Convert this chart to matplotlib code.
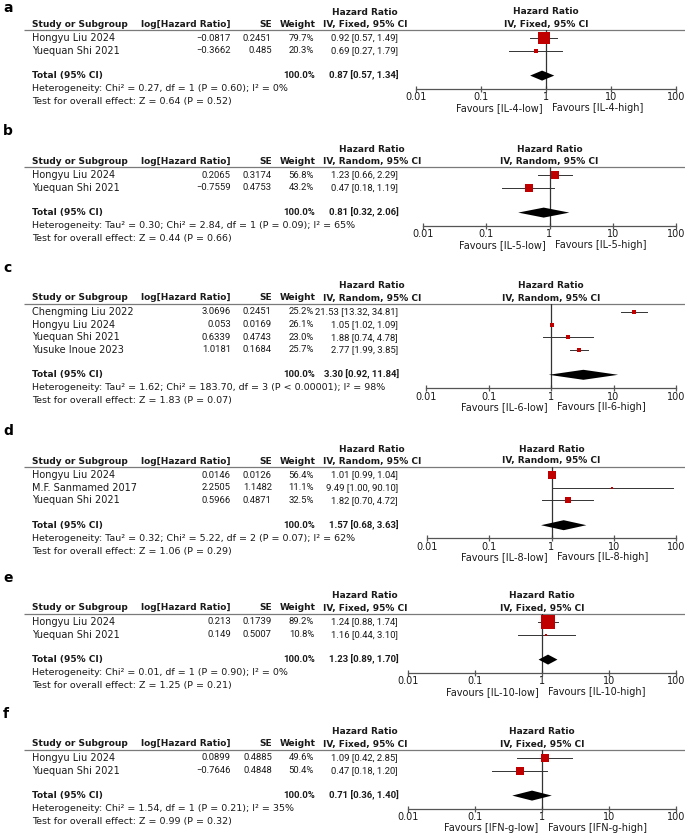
import matplotlib.pyplot as plt

plt.rcParams['font.family'] = ['DejaVu Sans']

# ---- data, one block per panel ----
a_studies = ["Hongyu Liu 2024", "Yuequan Shi 2021"]
a_loghr = [-0.0817, -0.3662]
a_se = [0.2451, 0.485]
a_weight = [79.7, 20.3]
a_hr = [0.92, 0.69]
a_lo = [0.57, 0.27]
a_hi = [1.49, 1.79]
a_total = [0.87, 0.57, 1.34]
a_het = "Heterogeneity: Chi² = 0.27, df = 1 (P = 0.60); I² = 0%"
a_test = "Test for overall effect: Z = 0.64 (P = 0.52)"
a_favours = ["Favours [IL-4-low]", "Favours [IL-4-high]"]

b_studies = ["Hongyu Liu 2024", "Yuequan Shi 2021"]
b_loghr = [0.2065, -0.7559]
b_se = [0.3174, 0.4753]
b_weight = [56.8, 43.2]
b_hr = [1.23, 0.47]
b_lo = [0.66, 0.18]
b_hi = [2.29, 1.19]
b_total = [0.81, 0.32, 2.06]
b_het = "Heterogeneity: Tau² = 0.30; Chi² = 2.84, df = 1 (P = 0.09); I² = 65%"
b_test = "Test for overall effect: Z = 0.44 (P = 0.66)"
b_favours = ["Favours [IL-5-low]", "Favours [IL-5-high]"]

c_studies = ["Chengming Liu 2022", "Hongyu Liu 2024", "Yuequan Shi 2021", "Yusuke Inoue 2023"]
c_loghr = [3.0696, 0.053, 0.6339, 1.0181]
c_se = [0.2451, 0.0169, 0.4743, 0.1684]
c_weight = [25.2, 26.1, 23.0, 25.7]
c_hr = [21.53, 1.05, 1.88, 2.77]
c_lo = [13.32, 1.02, 0.74, 1.99]
c_hi = [34.81, 1.09, 4.78, 3.85]
c_total = [3.30, 0.92, 11.84]
c_het = "Heterogeneity: Tau² = 1.62; Chi² = 183.70, df = 3 (P < 0.00001); I² = 98%"
c_test = "Test for overall effect: Z = 1.83 (P = 0.07)"
c_favours = ["Favours [IL-6-low]", "Favours [Il-6-high]"]

d_studies = ["Hongyu Liu 2024", "M.F. Sanmamed 2017", "Yuequan Shi 2021"]
d_loghr = [0.0146, 2.2505, 0.5966]
d_se = [0.0126, 1.1482, 0.4871]
d_weight = [56.4, 11.1, 32.5]
d_hr = [1.01, 9.49, 1.82]
d_lo = [0.99, 1.00, 0.70]
d_hi = [1.04, 90.10, 4.72]
d_total = [1.57, 0.68, 3.63]
d_het = "Heterogeneity: Tau² = 0.32; Chi² = 5.22, df = 2 (P = 0.07); I² = 62%"
d_test = "Test for overall effect: Z = 1.06 (P = 0.29)"
d_favours = ["Favours [IL-8-low]", "Favours [IL-8-high]"]

e_studies = ["Hongyu Liu 2024", "Yuequan Shi 2021"]
e_loghr = [0.213, 0.149]
e_se = [0.1739, 0.5007]
e_weight = [89.2, 10.8]
e_hr = [1.24, 1.16]
e_lo = [0.88, 0.44]
e_hi = [1.74, 3.10]
e_total = [1.23, 0.89, 1.70]
e_het = "Heterogeneity: Chi² = 0.01, df = 1 (P = 0.90); I² = 0%"
e_test = "Test for overall effect: Z = 1.25 (P = 0.21)"
e_favours = ["Favours [IL-10-low]", "Favours [IL-10-high]"]

f_studies = ["Hongyu Liu 2024", "Yuequan Shi 2021"]
f_loghr = [0.0899, -0.7646]
f_se = [0.4885, 0.4848]
f_weight = [49.6, 50.4]
f_hr = [1.09, 0.47]
f_lo = [0.42, 0.18]
f_hi = [2.85, 1.20]
f_total = [0.71, 0.36, 1.40]
f_het = "Heterogeneity: Chi² = 1.54, df = 1 (P = 0.21); I² = 35%"
f_test = "Test for overall effect: Z = 0.99 (P = 0.32)"
f_favours = ["Favours [IFN-g-low]", "Favours [IFN-g-high]"]

panels = [
    ("a", "Fixed", a_studies, a_loghr, a_se, a_weight, a_hr, a_lo, a_hi, a_total, a_het, a_test, a_favours),
    ("b", "Random", b_studies, b_loghr, b_se, b_weight, b_hr, b_lo, b_hi, b_total, b_het, b_test, b_favours),
    ("c", "Random", c_studies, c_loghr, c_se, c_weight, c_hr, c_lo, c_hi, c_total, c_het, c_test, c_favours),
    ("d", "Random", d_studies, d_loghr, d_se, d_weight, d_hr, d_lo, d_hi, d_total, d_het, d_test, d_favours),
    ("e", "Fixed", e_studies, e_loghr, e_se, e_weight, e_hr, e_lo, e_hi, e_total, e_het, e_test, e_favours),
    ("f", "Fixed", f_studies, f_loghr, f_se, f_weight, f_hr, f_lo, f_hi, f_total, f_het, f_test, f_favours),
]

# layout (pixels): header rule y and left end of the forest axis for each panel
line_y = [30, 167, 304, 467, 614, 750]
forest_left = [416, 423, 426, 427, 408, 408]
forest_right = 676

# numbers are set tighter in the reference than DejaVu allows
num_family = ["Roboto", "DejaVu Sans"]
num_fs = 6.8

W, H = 685, 833
fig = plt.figure(figsize=(W / 100, H / 100), dpi=100)
tab = fig.add_axes([0, 0, 1, 1])
tab.set_xlim(0, W)
tab.set_ylim(H, 0)
tab.axis("off")

txt = "#1a1a1a"
fs = 7
fsb = 6.5
red = "#c00000"


def num(v):
    return str(v).replace("-", "\u2212")


def ntext(x, y, s, bold=False):
    tab.text(x, y, s, family=num_family, fontsize=num_fs,
             fontweight="bold" if bold else "normal", ha="right", va="center", color=txt)


for k, (letter, model, studies, loghr, se, weight, hr, lo, hi, total,
        het, test, fav) in enumerate(panels):
    ly = line_y[k]
    rows = [ly + 8 + 12.6 * i for i in range(len(studies))]
    ty = rows[-1] + 25
    axis_y = ty + 13

    # panel letter
    tab.text(3, max(ly - 36, 8), letter, fontsize=10, fontweight="bold",
             ha="left", va="center", color="black")

    # table header
    tab.text(32, ly - 6, "Study or Subgroup", fontsize=fsb, fontweight="bold", ha="left", va="center", color=txt)
    tab.text(231, ly - 6, "log[Hazard Ratio]", fontsize=fsb, fontweight="bold", ha="right", va="center", color=txt)
    tab.text(272, ly - 6, "SE", fontsize=fsb, fontweight="bold", ha="right", va="center", color=txt)
    tab.text(316, ly - 6, "Weight", fontsize=fsb, fontweight="bold", ha="right", va="center", color=txt)
    iv = tab.text(323, ly - 6, "IV, %s, 95%% CI" % model, fontsize=fsb, fontweight="bold",
                  ha="left", va="center", color=txt)
    tab.annotate("Hazard Ratio", xy=(0.5, 0.5), xycoords=iv, xytext=(0, 12 * 0.72),
                 textcoords="offset points", fontsize=fsb, fontweight="bold",
                 ha="center", va="center", color=txt)
    tab.plot([24, W], [ly, ly], color="#7a7a7a", lw=0.9, solid_capstyle="butt")

    # study rows
    for i, s in enumerate(studies):
        y = rows[i]
        tab.text(32, y, s, fontsize=fs, ha="left", va="center", color=txt)
        ntext(231, y, num(loghr[i]))
        ntext(272, y, num(se[i]))
        ntext(314, y, "%.1f%%" % weight[i])
        ntext(398, y, "%.2f [%.2f, %.2f]" % (hr[i], lo[i], hi[i]))

    # total + footnotes
    tab.text(32, ty, "Total (95% CI)", fontsize=fsb, fontweight="bold", ha="left", va="center", color=txt)
    ntext(315, ty, "100.0%", bold=True)
    ntext(399, ty, "%.2f [%.2f, %.2f]" % tuple(total), bold=True)
    tab.text(32, ty + 13, het, fontsize=6.8, ha="left", va="center", color=txt)
    tab.text(32, ty + 26, test, fontsize=6.8, ha="left", va="center", color=txt)

    # forest axes, y in figure pixels
    ax = fig.add_axes([forest_left[k] / W, 1 - axis_y / H,
                       (forest_right - forest_left[k]) / W, (axis_y - ly) / H])
    ax.set_xscale("log")
    ax.set_xlim(0.01, 100)
    ax.set_ylim(axis_y, ly)
    ax.patch.set_alpha(0)
    for side in ("top", "left", "right"):
        ax.spines[side].set_visible(False)
    ax.spines["bottom"].set_color("#555555")
    ax.spines["bottom"].set_linewidth(0.9)
    ax.set_yticks([])
    ax.set_xticks([0.01, 0.1, 1, 10, 100])
    ax.set_xticklabels(["0.01", "0.1", "1", "10", "100"])
    ax.minorticks_off()
    ax.tick_params(axis="x", direction="inout", length=4.5, width=0.9, color="#555555",
                   labelsize=fs, labelcolor=txt, pad=0.5)
    ax.axvline(1, color="#333333", lw=0.9)

    ax.text(1, ly - 18, "Hazard Ratio", fontsize=fsb, fontweight="bold", ha="center", va="center", color=txt)
    ax.text(1, ly - 6, "IV, %s, 95%% CI" % model, fontsize=fsb, fontweight="bold",
            ha="center", va="center", color=txt)

    for i in range(len(studies)):
        y = rows[i]
        ax.plot([lo[i], hi[i]], [y, y], color="#333333", lw=0.7, clip_on=False)
        side_px = 1.5 + 0.13 * weight[i]
        ax.plot(hr[i], y, marker="s", ms=side_px * 0.72, color=red, mec=red, mew=0,
                clip_on=False, zorder=3)

    est, tlo, thi = total
    ax.fill([tlo, est, thi, est], [ty, ty - 5, ty, ty + 5], color="black", lw=0, zorder=3)

    ax.annotate(fav[0], xy=(1, axis_y), xycoords="data", xytext=(-2.5, -19 * 0.72),
                textcoords="offset points", fontsize=fs, ha="right", va="center",
                color=txt, annotation_clip=False)
    ax.annotate(fav[1], xy=(1, axis_y), xycoords="data", xytext=(4, -19 * 0.72),
                textcoords="offset points", fontsize=fs, ha="left", va="center",
                color=txt, annotation_clip=False)

fig.savefig("out.png", dpi=100)
